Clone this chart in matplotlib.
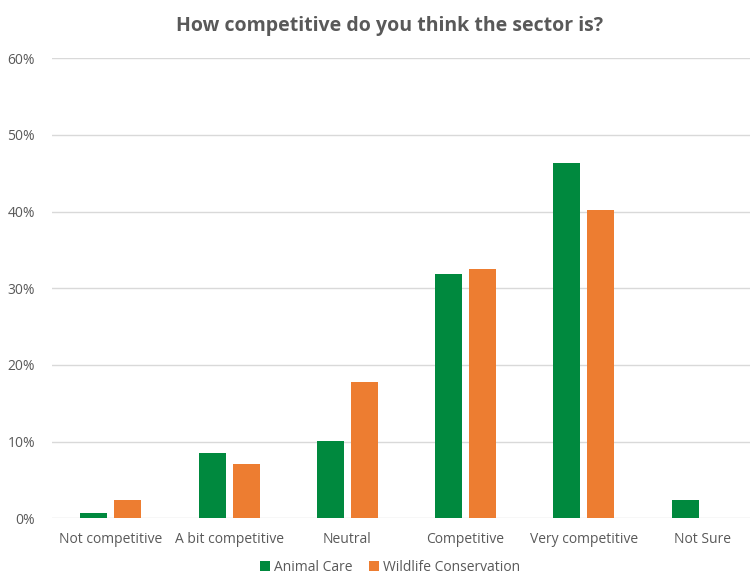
import matplotlib.pyplot as plt
import numpy as np
from matplotlib.ticker import PercentFormatter

categories = ['Not competitive', 'A bit competitive', 'Neutral', 'Competitive',
              'Very competitive', 'Not Sure']
animal_care = [0.7, 8.5, 10.1, 31.8, 46.4, 2.4]
wildlife = [2.4, 7.0, 17.8, 32.5, 40.2, 0.0]

green = '#00893E'
orange = '#ED7D31'
grey = '#595959'

plt.rcParams['font.family'] = ['Open Sans', 'DejaVu Sans']

fig = plt.figure(figsize=(7.5, 5.77), dpi=100)
ax = fig.add_axes([0.069, 0.102, 0.946, 0.797])

x = np.arange(len(categories))
w = 0.228
ax.bar(x - 0.144, animal_care, w, color=green, label='Animal Care', zorder=3)
ax.bar(x + 0.144, wildlife, w, color=orange, label='Wildlife Conservation', zorder=3)

ax.set_xlim(-0.5, len(categories) - 0.5)
ax.set_ylim(0, 60)
ax.set_yticks(range(0, 61, 10))
ax.yaxis.set_major_formatter(PercentFormatter(decimals=0))
ax.set_xticks(x)
ax.set_xticklabels(categories)
ax.tick_params(axis='both', length=0, labelsize=10, colors=grey)
ax.tick_params(axis='x', pad=10)
ax.tick_params(axis='y', pad=12)
ax.grid(axis='y', color='#D9D9D9', linewidth=1, zorder=0)
for s in ax.spines.values():
    s.set_visible(False)

fig.suptitle('How competitive do you think the sector is?', x=0.52, y=0.972,
             fontsize=14, fontweight='bold', color=grey)

fig.legend(loc='lower center', bbox_to_anchor=(0.52, -0.018), ncol=2, frameon=False,
           fontsize=10, labelcolor=grey, handlelength=0.7, handleheight=0.7,
           handletextpad=0.3, columnspacing=1.2)

fig.savefig('out.png', dpi=100)
